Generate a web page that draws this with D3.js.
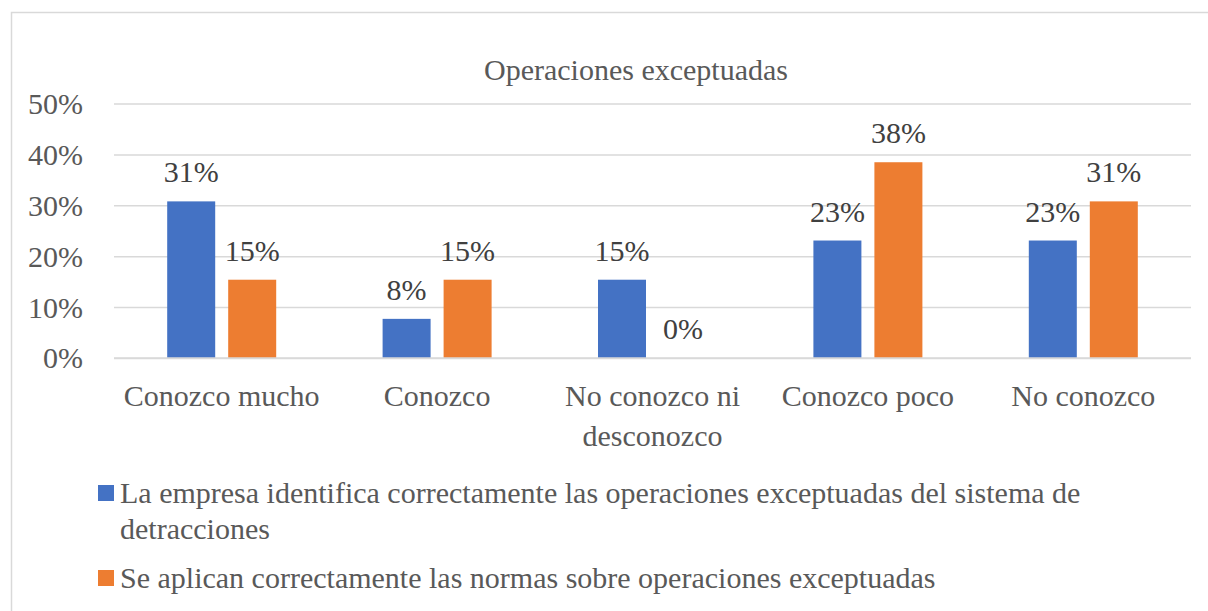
<!DOCTYPE html>
<html><head><meta charset="utf-8">
<script src="https://cdn.jsdelivr.net/npm/d3@7"></script>
<style>body{margin:0;background:#fff}svg{display:block}</style>
</head><body><svg id="c" width="1208" height="611"></svg>
<script>
const title = "Operaciones exceptuadas";
const categories = [["Conozco mucho"],["Conozco"],["No conozco ni","desconozco"],["Conozco poco"],["No conozco"]];
const seriesNames = [
  ["La empresa identifica correctamente las operaciones exceptuadas del sistema de","detracciones"],
  ["Se aplican correctamente las normas sobre operaciones exceptuadas"]
];
const seriesA = [0.3077, 0.0769, 0.1538, 0.2308, 0.2308];
const seriesB = [0.1538, 0.1538, 0.0, 0.3846, 0.3077];
const yTicks = [0, 0.1, 0.2, 0.3, 0.4, 0.5];
const colors = ["#4472C4", "#ED7D31"];

const FF = "Liberation Serif";
const svg = d3.select("#c");
const fs = 30;
svg.append("rect").attr("x",11.5).attr("y",12.5).attr("width",1260).attr("height",700)
  .attr("fill","#fff").attr("stroke","#d9d9d9").attr("stroke-width",1.5);

const x0 = d3.scaleBand().domain(d3.range(categories.length)).range([114,1191]).paddingInner(0).paddingOuter(0);
const y = d3.scaleLinear().domain([0,0.5]).range([358,103.5]);
const barW = 48, gap = 13;

svg.append("text").attr("x",636).attr("y",80).attr("text-anchor","middle").attr("font-family",FF)
  .attr("font-size",fs).attr("fill","#595959").text(title);

const yAxis = d3.axisLeft(y).tickValues(yTicks).tickSize(-(1191-114)).tickFormat(d=>Math.round(d*100)+"%");
const ga = svg.append("g").attr("transform","translate(114,0)").call(yAxis);
ga.attr("font-family", FF).attr("font-size", fs);
ga.select(".domain").remove();
ga.selectAll(".tick line").attr("stroke","#d9d9d9").attr("stroke-width",1.5);
ga.selectAll(".tick text").attr("x",-31).attr("dy","0.33em").attr("font-size",fs)
  .attr("fill","#595959").attr("font-family",FF);

const series = [seriesA, seriesB];
series.forEach((vals,si)=>{
  const cx = i => x0(i)+x0.bandwidth()/2 + (si===0 ? -(gap/2+barW) : gap/2);
  svg.append("g").selectAll("rect").data(vals).join("rect")
    .attr("x",(d,i)=>cx(i)).attr("width",barW)
    .attr("y",d=>y(d)).attr("height",d=>y(0)-y(d)).attr("fill",colors[si]);
  svg.append("g").selectAll("text").data(vals).join("text")
    .attr("x",(d,i)=>cx(i)+barW/2).attr("y",d=>y(d)-19).attr("text-anchor","middle").attr("font-family",FF)
    .attr("font-size",fs).attr("fill","#404040").text(d=>Math.round(d*100)+"%");
});
svg.append("line").attr("x1",114).attr("x2",1191).attr("y1",y(0)).attr("y2",y(0)).attr("stroke","#d9d9d9").attr("stroke-width",1.5);

categories.forEach((lines,i)=>{
  const cxm = x0(i)+x0.bandwidth()/2;
  const t = svg.append("text").attr("x",cxm).attr("y",406).attr("font-family",FF)
    .attr("text-anchor","middle").attr("font-size",fs).attr("fill","#595959");
  lines.forEach((l,j)=>t.append("tspan").attr("x",cxm).attr("dy", j?40:0).text(l));
});

const legY = [503, 588];
seriesNames.forEach((lines,si)=>{
  svg.append("rect").attr("x",98).attr("y",legY[si]-18).attr("width",16).attr("height",16).attr("fill",colors[si]);
  const t = svg.append("text").attr("x",120).attr("y",legY[si]).attr("font-size",fs).attr("fill","#595959").attr("font-family",FF);
  lines.forEach((l,j)=>t.append("tspan").attr("x",120).attr("dy", j?36:0).text(l));
});
</script></body></html>
